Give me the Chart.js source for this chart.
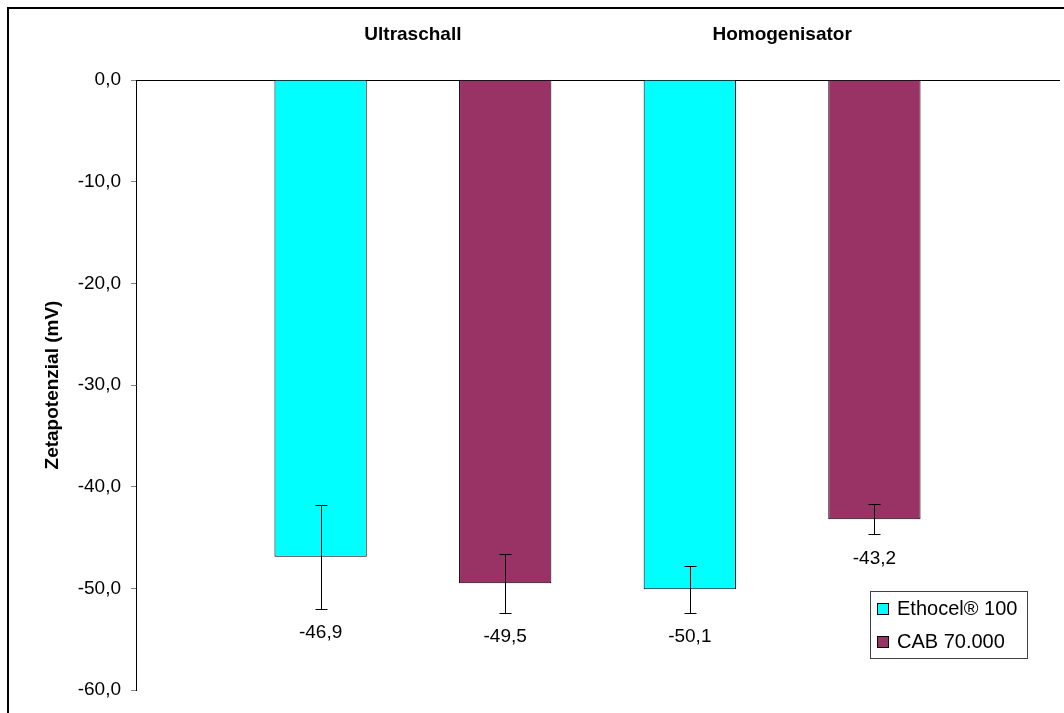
<!DOCTYPE html>
<html>
<head>
<meta charset="utf-8">
<script src="https://cdn.jsdelivr.net/npm/chart.js@4.4.0/dist/chart.umd.min.js"></script>
<style>
  html, body { margin: 0; padding: 0; background: #fff; overflow: hidden; }
  #wrap { position: relative; width: 1064px; height: 713px; }
  #frame { position: absolute; left: 7px; top: 7px; width: 1100px; height: 760px; border: 2px solid #000; box-sizing: border-box; }
  canvas { position: absolute; left: 0; top: 0; }
</style>
</head>
<body>
<div id="wrap">
  <div id="frame"></div>
  <canvas id="chart" width="1064" height="713"></canvas>
</div>
<script>
const categories = ['Ultraschall', 'Homogenisator'];
const seriesNames = ['Ethocel® 100', 'CAB 70.000'];
const ethocel = [-46.9, -50.1];
const cab = [-49.5, -43.2];
const ethocelErr = [5.1, 2.3];
const cabErr = [2.9, 1.5];
const yTicks = [0, -10, -20, -30, -40, -50, -60];

const FONT = "'Liberation Sans', Arial, sans-serif";
const fmt = v => v.toFixed(1).replace('.', ',');

// each category takes two slots on the x scale, one per series
const slot = (catIndex, seriesIndex) => catIndex * 2 + seriesIndex + 1;

const errorBars = {
  id: 'errorBars',
  afterDatasetsDraw(chart) {
    const ctx = chart.ctx, y = chart.scales.y;
    chart.data.datasets.forEach((ds, di) => {
      chart.getDatasetMeta(di).data.forEach((bar, i) => {
        const v = ds.data[i].y, e = ds.err[i];
        const x = Math.round(bar.x) + 0.5;
        const top = Math.round(y.getPixelForValue(v + e)) + 0.5;
        const bot = Math.round(y.getPixelForValue(v - e)) + 0.5;
        ctx.save();
        ctx.strokeStyle = '#000';
        ctx.lineWidth = 1;
        ctx.beginPath();
        ctx.moveTo(x, top); ctx.lineTo(x, bot);
        ctx.moveTo(x - 6, top); ctx.lineTo(x + 6, top);
        ctx.moveTo(x - 6, bot); ctx.lineTo(x + 6, bot);
        ctx.stroke();
        ctx.restore();
      });
    });
  }
};

const valueLabels = {
  id: 'valueLabels',
  afterDatasetsDraw(chart) {
    const ctx = chart.ctx, y = chart.scales.y;
    ctx.save();
    ctx.font = '19px ' + FONT;
    ctx.fillStyle = '#000';
    ctx.textAlign = 'center';
    ctx.textBaseline = 'middle';
    chart.data.datasets.forEach((ds, di) => {
      chart.getDatasetMeta(di).data.forEach((bar, i) => {
        const v = ds.data[i].y, e = ds.err[i];
        ctx.fillText(fmt(v), bar.x, y.getPixelForValue(v - e) + 24);
      });
    });
    ctx.restore();
  }
};

const boxLegend = {
  id: 'boxLegend',
  afterDraw(chart) {
    const ctx = chart.ctx;
    const left = 870, top = 591;
    ctx.save();
    ctx.fillStyle = '#fff';
    ctx.fillRect(left, top, 157, 67);
    ctx.strokeStyle = '#404040';
    ctx.lineWidth = 1;
    ctx.strokeRect(left + 0.5, top + 0.5, 157, 67);
    ctx.font = '20px ' + FONT;
    ctx.textBaseline = 'middle';
    chart.data.datasets.forEach((ds, i) => {
      const cy = top + 18 + i * 33;
      ctx.fillStyle = ds.backgroundColor;
      ctx.fillRect(left + 7, cy - 6, 11, 11);
      ctx.strokeStyle = '#000';
      ctx.strokeRect(left + 7.5, cy - 5.5, 11, 11);
      ctx.fillStyle = '#000';
      ctx.fillText(ds.label, left + 27, cy);
    });
    ctx.restore();
  }
};

const barStyle = {
  borderColor: '#000',
  borderWidth: 1,
  grouped: false,
  categoryPercentage: 1,
  barPercentage: 0.5
};

new Chart(document.getElementById('chart'), {
  type: 'bar',
  data: {
    datasets: [
      { ...barStyle, label: seriesNames[0], backgroundColor: '#00FFFF', err: ethocelErr,
        data: ethocel.map((v, i) => ({ x: slot(i, 0), y: v })) },
      { ...barStyle, label: seriesNames[1], backgroundColor: '#993366', err: cabErr,
        data: cab.map((v, i) => ({ x: slot(i, 1), y: v })) }
    ]
  },
  options: {
    responsive: false,
    animation: false,
    layout: { padding: { left: 0, top: 0, right: 5, bottom: 23 } },
    plugins: { legend: { display: false }, tooltip: { enabled: false } },
    scales: {
      x: {
        type: 'linear',
        position: 'top',
        min: 0,
        max: 5,
        offset: false,
        grid: { display: false, drawTicks: false },
        border: { color: '#000', width: 1 },
        afterBuildTicks: s => { s.ticks = categories.map((c, i) => ({ value: slot(i, 0) + 0.5 })); },
        ticks: {
          autoSkip: false,
          maxRotation: 0,
          padding: 34,
          color: '#000',
          font: { family: FONT, size: 19, weight: 'bold' },
          callback: v => categories[(v - 1.5) / 2]
        },
        afterFit: s => { s.height = 80; }
      },
      y: {
        min: -60,
        max: 0,
        afterBuildTicks: s => { s.ticks = yTicks.map(v => ({ value: v })); },
        grid: { drawOnChartArea: false, tickLength: 5, color: '#808080' },
        border: { color: '#000', width: 1 },
        ticks: {
          padding: 10,
          color: '#000',
          font: { family: FONT, size: 19 },
          callback: v => fmt(v)
        },
        title: {
          display: true,
          text: 'Zetapotenzial (mV)',
          color: '#000',
          font: { family: FONT, size: 19, weight: 'bold' },
          padding: { top: 41, bottom: 0 }
        },
        afterFit: s => { s.width = 136; }
      }
    }
  },
  plugins: [errorBars, valueLabels, boxLegend]
});
</script>
</body>
</html>
